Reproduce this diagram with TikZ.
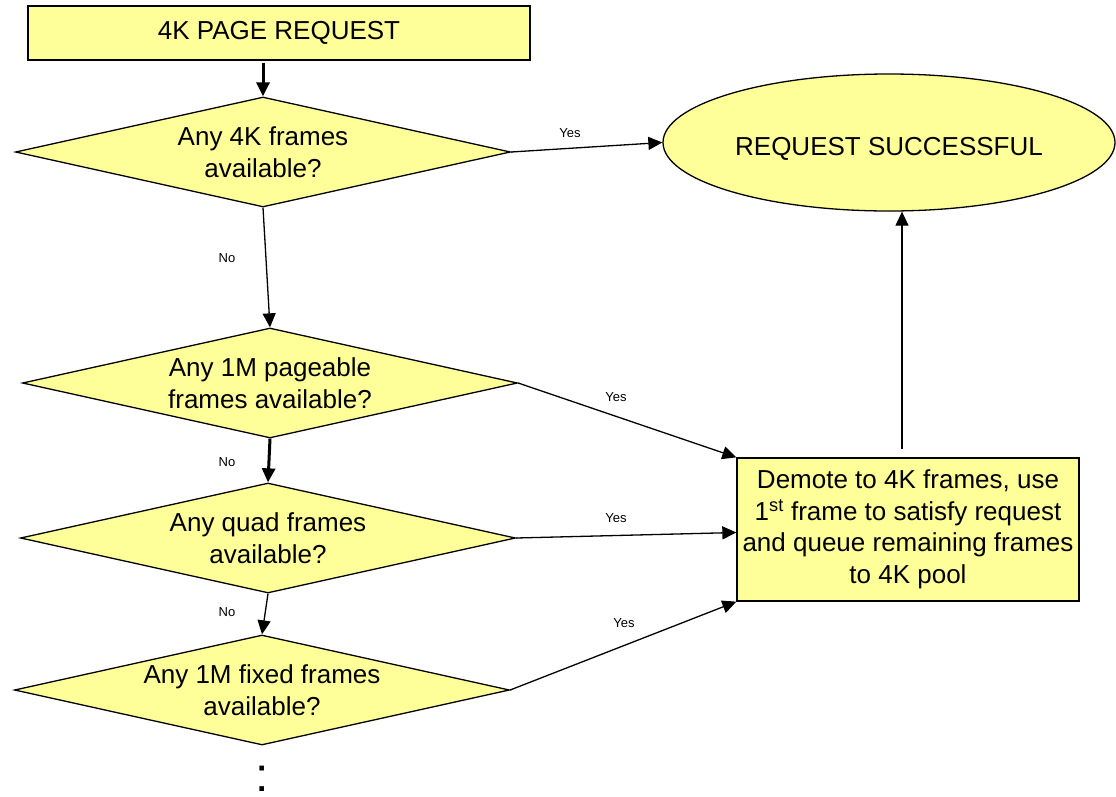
\documentclass[tikz,border=0pt]{standalone}
\usepackage{fontspec}
\setmainfont{Liberation Sans}
\usetikzlibrary{shapes.geometric,arrows.meta}
\definecolor{fillY}{HTML}{FFFF99}
\begin{document}
\begin{tikzpicture}[x=1pt,y=-1pt,
  box/.style={draw, line width=1.3pt, fill=fillY, inner sep=0pt, font=\fontsize{26}{31.5}\selectfont, align=center},
  dia/.style={box, shape=diamond, aspect=4.5, minimum width=495pt, minimum height=110pt},
  arr/.style={line width=1.3pt, -{Triangle[length=14pt,width=13pt]}},
  tarr/.style={line width=3pt, -{Triangle[length=14pt,width=13pt]}},
  lbl/.style={font=\fontsize{13}{15}\selectfont, inner sep=0pt}]
\useasboundingbox (0,0) rectangle (1116,796);
\node[box, minimum width=502pt, minimum height=54pt] (start) at (279,33) {4K PAGE REQUEST};
\node[dia] (d1) at (263,152) {Any 4K frames\\available?};
\node[box, ellipse, minimum width=452pt, minimum height=137pt, text depth=0pt, text height=25pt] (ok) at (889,142.5) {REQUEST SUCCESSFUL};
\node[dia] (d2) at (270,383) {Any 1M pageable\\frames available?};
\node[dia] (d3) at (268,538) {Any quad frames\\available?};
\node[dia] (d4) at (262,690) {Any 1M fixed frames\\available?};
\node[box, minimum width=342pt, minimum height=143pt] (demote) at (908,529.5) {Demote to 4K frames, use\\1\textsuperscript{st} frame to satisfy request\\and queue remaining frames\\to 4K pool};
\node[font=\fontsize{48}{48}\selectfont, inner sep=0pt, anchor=base] (dots) at (262,791) {:};
\coordinate (up0) at ([xshift=-6pt,yshift=8pt]demote.north);
\draw[tarr] ([yshift=-2pt]d1.north |- start.south) -- (d1.north);
\draw[arr] (d1.east) -- (ok.west);
\draw[arr] (d1.south) -- (d2.north);
\draw[arr] (d2.east) -- (demote.north west);
\draw[tarr] (d2.south) -- (d3.north);
\draw[arr] (d3.east) -- ([yshift=-3pt]demote.west);
\draw[arr] (d3.south) -- (d4.north);
\draw[arr] (d4.east) -- (demote.south west);
\draw[arr] (up0) -- (up0 |- ok.south);
\node[lbl] (y1) at (570,133) {Yes};
\node[lbl] (y2) at (616,397) {Yes};
\node[lbl] (y3) at (616,518) {Yes};
\node[lbl] (y4) at (624,623) {Yes};
\node[lbl] (n1) at (227,258) {No};
\node[lbl] (n2) at (227,462) {No};
\node[lbl] (n3) at (227,612) {No};
\end{tikzpicture}
\end{document}
